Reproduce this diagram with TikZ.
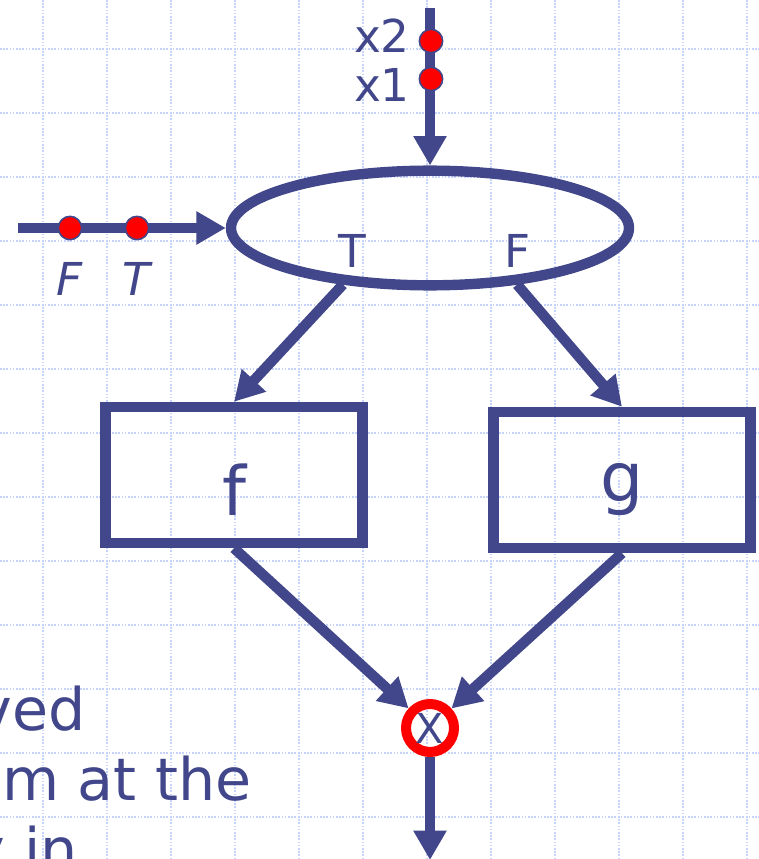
\documentclass[tikz,border=0pt]{standalone}
\usepackage{fontspec}
\setmainfont{DejaVu Sans}
\usetikzlibrary{shapes.geometric, arrows.meta, positioning}

\definecolor{tinta}{RGB}{65,71,138}
\definecolor{rejilla}{RGB}{196,210,252}

\begin{document}
\begin{tikzpicture}[
    x=0.75pt, y=-0.75pt,
    % Definición global de estilos
    base/.style = {draw=tinta, line width=7.8pt, inner sep=0pt, text=tinta},
    cond/.style = {base, ellipse, minimum width=298.5pt, minimum height=86pt},
    caja/.style = {base, rectangle, minimum width=193pt, minimum height=102pt, font=\fontsize{51}{51}\selectfont},
    cruce/.style = {draw=red, line width=7.5pt, circle, inner sep=0pt, minimum size=36pt, text=tinta, font=\fontsize{31}{31}\selectfont},
    punto/.style = {circle, fill=red, draw=tinta, line width=1.2pt, minimum size=17.5pt, inner sep=0pt},
    etiq/.style = {text=tinta, inner sep=0pt, font=\fontsize{34}{34}\selectfont},
    texto/.style = {text=tinta, inner sep=0pt, font=\fontsize{44}{44}\selectfont},
    flecha/.style = {draw=tinta, line width=7.8pt, -{Triangle[length=22pt, width=23.5pt]}},
    rej/.style = {rejilla, line width=1.3pt, dash pattern=on 1.2pt off 1.2pt}
]
\useasboundingbox (0,0) rectangle (759,859);
\clip (0,0) rectangle (759,859);

% ===============================
% 0. Rejilla de fondo
% ===============================
\foreach \gx in {0,...,11}
    \draw[rej] (42.7+64*\gx,0) -- (42.7+64*\gx,859);
\foreach \gy in {0,...,12}
    \draw[rej] (0,49.3+64*\gy) -- (759,49.3+64*\gy);

% ===============================
% 1. Nodos
% ===============================
\node (cond) [cond] at (430,228) {};
\node (tcond) [etiq, anchor=base] at (352,267) {T};
\node (fcond) [etiq, anchor=base] at (518,267) {F};

\node (fbox) [caja, text height=60pt, text depth=0pt] at (234,475) {f};
\node (gbox) [caja, text height=32pt, text depth=0pt] at (622,480) {g};

\node (merge) [cruce] at (430,728) {X};

\coordinate (topin) at (430,8);
\coordinate (leftin) at (18,228);
\coordinate (out) at (430,860);

% ===============================
% 2. Flechas
% ===============================
\draw [flecha] (topin) -- (cond.north);
\draw [flecha] (leftin) -- (cond.west);
\draw [flecha] (cond.213) -- (fbox.north);
\draw [flecha] (cond.327) -- (gbox.north);
\draw [flecha] (fbox.south) -- (merge);
\draw [flecha] (gbox.south) -- (merge);
\draw [flecha] (merge) -- (out);

% ===============================
% 3. Tokens y etiquetas
% ===============================
\node (x2dot) [punto] at (431,41) {};
\node (x1dot) [punto] at (431,79) {};
\node (x2lab) [etiq, anchor=base east] at (410,53) {x2};
\node (x1lab) [etiq, anchor=base east] at (410,102) {x1};

\node (fdot) [punto] at (70,228) {};
\node (tdot) [punto] at (137,228) {};
\node (flab) [etiq, anchor=base] at (70,295) {\itshape F};
\node (tlab) [etiq, anchor=base] at (136,295) {\itshape T};

% ===============================
% 4. Texto recortado
% ===============================
\node (t1) [texto, anchor=base east] at (86,730) {ved};
\node (t2) [texto, anchor=base east] at (252,800) {m at the};
\node (t3) [texto, anchor=base east] at (78,870) {y in};

\end{tikzpicture}
\end{document}
